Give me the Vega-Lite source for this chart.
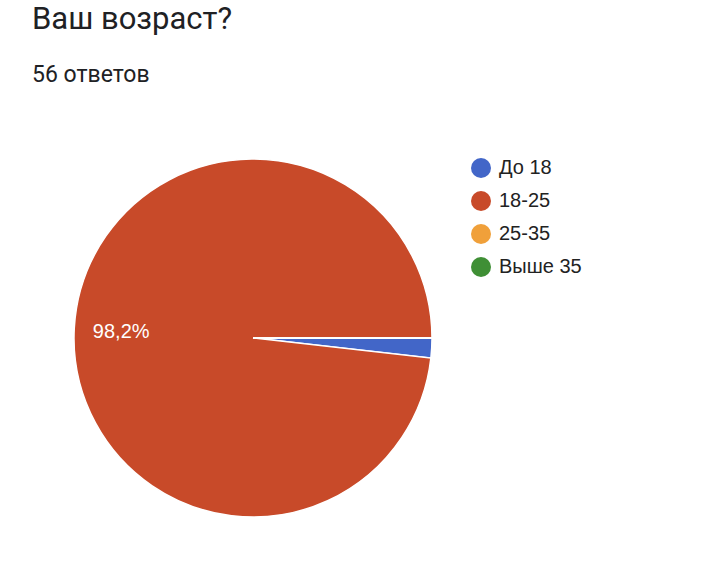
{
  "$schema": "https://vega.github.io/schema/vega-lite/v6.json",
  "autosize": "none",
  "width": 506,
  "height": 472,
  "padding": {"left": 0, "top": 102, "right": 209, "bottom": 0},
  "background": "white",
  "view": {"stroke": null},
  "title": {
    "text": "Ваш возраст?",
    "subtitle": "56 ответов",
    "anchor": "start",
    "frame": "group",
    "dx": 32,
    "offset": 14,
    "font": "Roboto",
    "fontSize": 31,
    "fontWeight": "normal",
    "color": "#202124",
    "subtitleFont": "Roboto",
    "subtitleFontSize": 23,
    "subtitleColor": "#202124",
    "subtitlePadding": 28
  },
  "data": {
    "values": [
      {"age": "До 18", "count": 1, "ord": 1, "label": ""},
      {"age": "18-25", "count": 55, "ord": 2, "label": "98,2%"},
      {"age": "25-35", "count": 0, "ord": 3, "label": ""},
      {"age": "Выше 35", "count": 0, "ord": 4, "label": ""}
    ]
  },
  "encoding": {
    "theta": {"field": "count", "type": "quantitative", "stack": true, "scale": {"range": [1.5707963, 7.8539816]}},
    "order": {"field": "ord", "type": "quantitative"}
  },
  "layer": [
    {
      "mark": {"type": "arc", "radius": 179, "stroke": "white", "strokeWidth": 1.5},
      "encoding": {
        "color": {
          "field": "age",
          "type": "nominal",
          "scale": {"domain": ["До 18", "18-25", "25-35", "Выше 35"], "range": ["#4266c8", "#c84a29", "#f0a03a", "#3f8f35"]},
          "legend": {
            "title": null,
            "orient": "none",
            "legendX": 471,
            "legendY": 56,
            "padding": 0,
            "symbolType": "circle",
            "symbolSize": 400,
            "symbolStrokeWidth": 0,
            "labelFont": "Liberation Sans",
            "labelFontSize": 20,
            "labelColor": "#222222",
            "labelOffset": 8,
            "rowPadding": 13
          }
        }
      }
    },
    {
      "transform": [{"filter": "datum.label != ''"}],
      "mark": {"type": "text", "radius": 132, "dy": -13, "color": "white", "font": "Liberation Sans", "fontSize": 20, "align": "center", "baseline": "middle"},
      "encoding": {"text": {"field": "label"}}
    }
  ]
}
